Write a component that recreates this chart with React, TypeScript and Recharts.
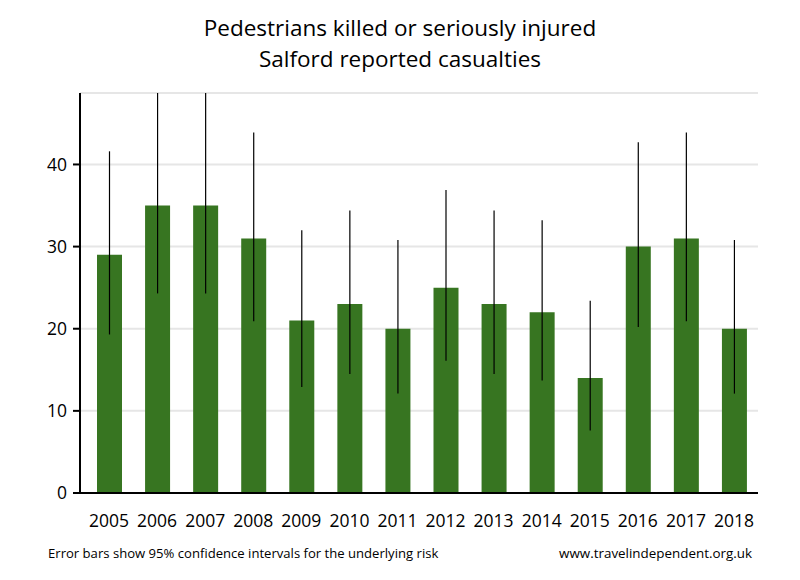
import React from 'react';
import { BarChart, Bar, XAxis, YAxis, CartesianGrid, ErrorBar } from 'recharts';

const years = ['2005', '2006', '2007', '2008', '2009', '2010', '2011', '2012', '2013', '2014', '2015', '2016', '2017', '2018'];
const casualties = [29, 35, 35, 31, 21, 23, 20, 25, 23, 22, 14, 30, 31, 20];
const ciLow = [19.3, 24.3, 24.3, 20.9, 12.9, 14.5, 12.1, 16.1, 14.5, 13.7, 7.6, 20.2, 20.9, 12.1];
const ciHigh = [41.6, 48.7, 48.7, 43.9, 32.0, 34.4, 30.8, 36.9, 34.4, 33.2, 23.4, 42.7, 43.9, 30.8];
const yTicks = [0, 10, 20, 30, 40];

const titleLines = ['Pedestrians killed or seriously injured', 'Salford reported casualties'];
const footLeft = 'Error bars show 95% confidence intervals for the underlying risk';
const footRight = 'www.travelindependent.org.uk';

const data = years.map((y, i) => ({
  year: y,
  value: casualties[i],
  err: [casualties[i] - ciLow[i], ciHigh[i] - casualties[i]],
}));

const FONT = '"Open Sans", "Noto Sans", sans-serif';

export default function App() {
  return (
    <div style={{ position: 'absolute', left: 0, top: 0, width: 800, height: 580, background: '#fff', fontFamily: FONT }}>
      <div style={{ position: 'absolute', left: 0, top: 12, width: 800, textAlign: 'center', fontSize: 22.5, lineHeight: '31px', color: '#000' }}>
        {titleLines.map((t) => (
          <div key={t}>{t}</div>
        ))}
      </div>
      <BarChart
        width={800}
        height={580}
        data={data}
        margin={{ top: 93, right: 42, left: 0, bottom: 57 }}
        barSize={25}
      >
        <CartesianGrid vertical={false} stroke="#e6e6e6" strokeWidth={2} />
        <XAxis
          dataKey="year"
          axisLine={{ stroke: '#000', strokeWidth: 2 }}
          tickLine={false}
          tick={{ fill: '#000', fontSize: 17.5, fontFamily: FONT }}
          tickMargin={16}
          height={30}
          padding={{ left: 5, right: 0 }}
          interval={0}
        />
        <YAxis
          width={80}
          domain={[0, 48.7]}
          ticks={yTicks}
          allowDataOverflow
          axisLine={{ stroke: '#000', strokeWidth: 2 }}
          tickLine={{ stroke: '#000', strokeWidth: 2 }}
          tickSize={7}
          tickMargin={6}
          tick={{ fill: '#000', fontSize: 17.5, fontFamily: FONT }}
        />
        <Bar dataKey="value" fill="#377521" isAnimationActive={false}>
          <ErrorBar dataKey="err" width={0} stroke="#000" strokeWidth={1.2} />
        </Bar>
      </BarChart>
      <div style={{ position: 'absolute', left: 48, top: 544, fontSize: 13.1, whiteSpace: 'nowrap', color: '#000' }}>{footLeft}</div>
      <div style={{ position: 'absolute', right: 48, top: 544, fontSize: 13.4, whiteSpace: 'nowrap', color: '#000' }}>{footRight}</div>
    </div>
  );
}
